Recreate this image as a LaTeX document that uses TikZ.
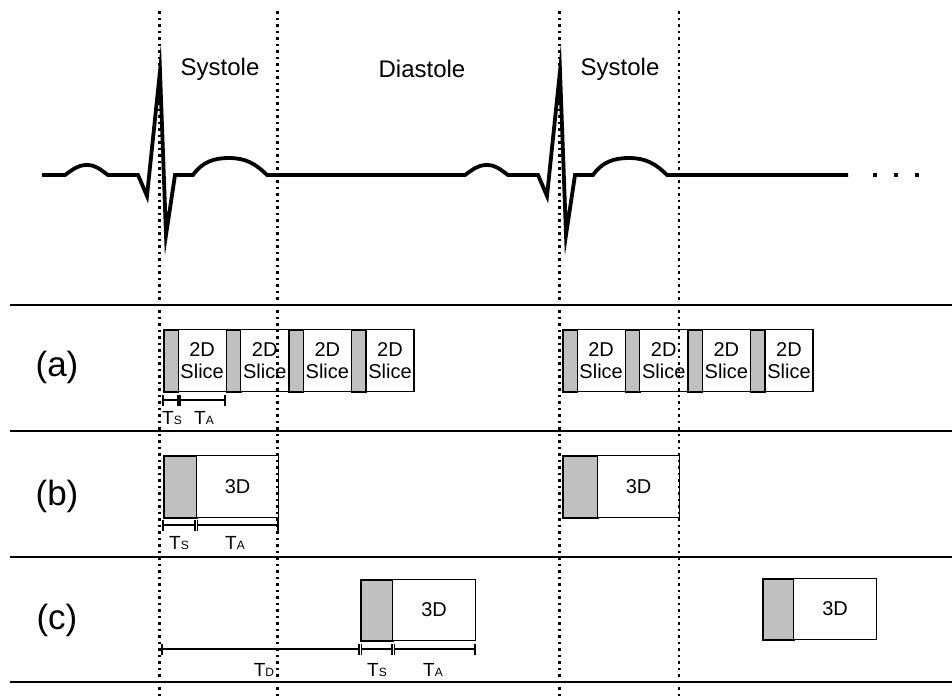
\documentclass[tikz,border=0pt]{standalone}
\usepackage{fontspec}
\setmainfont{Liberation Sans}
\definecolor{sgray}{RGB}{192,192,192}
\newcommand{\tlab}[1]{{\fontsize{19}{19}\selectfont T}{\fontsize{12}{12}\selectfont #1}}
\begin{document}
\begin{tikzpicture}[x=1pt,y=-1pt,
  ecg/.style={line width=3.8pt,line join=miter,miter limit=20},
  sep/.style={line width=2.6pt},
  vdot/.style={line width=2.6pt,dash pattern=on 2.6pt off 3.9pt},
  gbox/.style={draw,line width=1.5pt,fill=sgray,inner sep=0pt,anchor=north west},
  wbox/.style={draw,line width=1.2pt,fill=white,inner sep=0pt,anchor=north west,align=center},
  dimln/.style={line width=1.1pt},
  phase/.style={font=\fontsize{24}{24}\selectfont},
  rowlab/.style={font=\fontsize{35}{35}\selectfont},
  slicetxt/.style={font=\fontsize{20}{22}\selectfont},
  dtxt/.style={font=\fontsize{20}{20}\selectfont},
  dlab/.style={inner sep=0pt}
]
\useasboundingbox[fill=white] (0,0) rectangle (952,697);

% ECG trace
\draw[ecg] (42,175) -- (65,175) to[out=35,in=180] (87,165) to[out=0,in=145] (108,175)
  -- (138,175) -- (147,196) -- (160,71) -- (166,235) -- (175,175) -- (193,175)
  to[out=55,in=180] (229,158) to[out=0,in=135] (267,175)
  -- (465,175) to[out=35,in=180] (487,165) to[out=0,in=145] (508,175)
  -- (538,175) -- (547,196) -- (560,71) -- (566,235) -- (575,175) -- (593,175)
  to[out=55,in=180] (629,158) to[out=0,in=135] (667,175) -- (848,175);
\foreach \x in {875,896,917} \fill (\x-2,173) rectangle (\x+2,177);

% phase labels
\node[phase] (sys1) at (220,69) {Systole};
\node[phase] (dia) at (422,69) {Diastole};
\node[phase] (sys2) at (620,69) {Systole};

% separators
\foreach \y/\n in {305/s1,431/s2,557/s3,682/s4} {
  \coordinate (\n l) at (10,\y); \coordinate (\n r) at (952,\y);
  \draw[sep] (\n l) -- (\n r);
}

% row labels
\node[rowlab] (la) at (57,367) {(a)};
\node[rowlab] (lb) at (57,496) {(b)};
\node[rowlab] (lc) at (57,620) {(c)};

% row (a): 2D slices
\foreach \g/\st in {A/163,B/562} {
  \foreach \i in {0,...,3} {
    \pgfmathsetmacro\xx{\st+62.6*\i}
    \node[gbox,minimum width=14.5pt,minimum height=62pt] (g\g\i) at (\xx,329) {};
    \node[wbox,slicetxt,minimum width=48.1pt,minimum height=62pt] (w\g\i) at (\xx+14.5,329) {2D\\Slice};
  }
}

% row (b): 3D
\node[gbox,minimum width=33pt,minimum height=62pt] (gb1) at (163,455) {};
\node[wbox,dtxt,minimum width=82pt,minimum height=62pt] (wb1) at (196,455) {3D};
\node[gbox,minimum width=35pt,minimum height=62pt] (gb2) at (562,455) {};
\node[wbox,dtxt,minimum width=82pt,minimum height=62pt] (wb2) at (597,455) {3D};

% row (c): 3D
\node[gbox,minimum width=32pt,minimum height=61pt] (gc1) at (360,579) {};
\node[wbox,dtxt,minimum width=83pt,minimum height=61pt] (wc1) at (392,579) {3D};
\node[gbox,minimum width=31pt,minimum height=61pt] (gc2) at (762,578) {};
\node[wbox,dtxt,minimum width=83pt,minimum height=61pt] (wc2) at (793,578) {3D};

% dimension lines
% row (a)
\coordinate (a0) at (163,400); \coordinate (a1) at (178,400);
\coordinate (a2) at (180,400); \coordinate (a3) at (225,400);
\draw[dimln] (a0) -- (a1); \draw[dimln] (a2) -- (a3);
\foreach \c in {a0,a1,a2,a3} \draw[dimln] ([yshift=-5.5pt]\c) -- ([yshift=5.5pt]\c);
\node[dlab] (tsa) at (172,418) {\tlab{S}};
\node[dlab] (taa) at (204,418) {\tlab{A}};
% row (b)
\coordinate (b0) at (163,525); \coordinate (b1) at (195,525);
\coordinate (b2) at (197.5,525); \coordinate (b3) at (278,525);
\draw[dimln] (b0) -- (b1); \draw[dimln] (b2) -- (b3);
\foreach \c in {b0,b1,b2,b3} \draw[dimln] ([yshift=-5.5pt]\c) -- ([yshift=5.5pt]\c);
\node[dlab] (tsb) at (179,543) {\tlab{S}};
\node[dlab] (tab) at (235,543) {\tlab{A}};
% row (c)
\coordinate (c0) at (162,649); \coordinate (c1) at (359,649);
\coordinate (c2) at (361.5,649); \coordinate (c3) at (392,649);
\coordinate (c4) at (394.5,649); \coordinate (c5) at (475,649);
\draw[dimln] (c0) -- (c1); \draw[dimln] (c2) -- (c3); \draw[dimln] (c4) -- (c5);
\foreach \c in {c0,c1,c2,c3,c4,c5} \draw[dimln] ([yshift=-5.5pt]\c) -- ([yshift=5.5pt]\c);
\node[dlab] (tdc) at (264,670) {\tlab{D}};
\node[dlab] (tsc) at (377,670) {\tlab{S}};
\node[dlab] (tac) at (433,670) {\tlab{A}};

% dotted phase boundaries
\foreach \x/\n in {159.5/v1,277.5/v2,559.5/v3,679/v4} {
  \coordinate (\n t) at (\x,11); \coordinate (\n b) at (\x,697);
  \draw[vdot] (\n t) -- (\n b);
}
\end{tikzpicture}
\end{document}
